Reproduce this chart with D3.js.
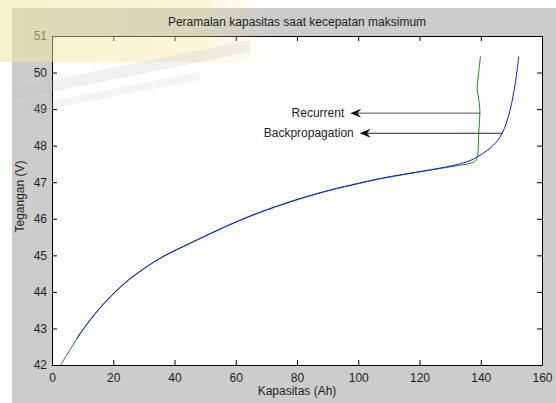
<!DOCTYPE html>
<html>
<head>
<meta charset="utf-8">
<script src="https://cdn.jsdelivr.net/npm/d3@7"></script>
<style>
  body { margin: 0; background: #fff; }
  text { font-family: "Liberation Sans", Arial, sans-serif; fill: #1e1e1e; }
</style>
</head>
<body>
<svg id="chart" width="556" height="403"></svg>
<script>
// values
const xTicks = [0, 20, 40, 60, 80, 100, 120, 140, 160];
const yTicks = [42, 43, 44, 45, 46, 47, 48, 49, 50, 51];

// backpropagation (blue)
const bpCap = [8, 10.4, 15, 20, 25, 30, 36.5, 45, 50, 58, 66, 74.6, 82, 90.9, 100, 107, 115, 123.5, 130, 134.4,
  137, 139, 142, 144.2, 145.5, 147, 148.3, 149.6, 150.5, 151.3, 151.9, 152.4];
const bpVolt = [42.72, 43.0, 43.5, 43.95, 44.33, 44.64, 44.98, 45.33, 45.53, 45.84, 46.12, 46.38, 46.58, 46.79, 46.97, 47.1, 47.22, 47.34, 47.44, 47.53,
  47.61, 47.7, 47.86, 48.02, 48.14, 48.34, 48.6, 48.98, 49.33, 49.71, 50.08, 50.44];

// recurrent (green)
const rnnCap = [2.8, 6, 10.4, 15, 20, 25, 30, 36.5, 45, 50, 58, 66, 74.6, 82, 90.9, 100, 107, 115, 123.5, 130, 134.4,
  136.6, 138.3, 139, 139.2, 139.4, 139.7, 139.2, 138.8, 139.2, 139.9];
const rnnVolt = [42.0, 42.43, 43.0, 43.49, 43.94, 44.32, 44.63, 44.97, 45.32, 45.52, 45.83, 46.11, 46.37, 46.57, 46.78, 46.96, 47.09, 47.21, 47.33, 47.42, 47.48,
  47.52, 47.58, 47.75, 48.0, 48.4, 48.98, 49.35, 49.57, 49.9, 50.44];

// annotation arrows: label, level, tail and head capacity
const noteLabels = ["Recurrent", "Backpropagation"];
const noteVolt = [48.89, 48.34];
const noteFrom = [139.9, 146.9];
const noteTo = [97.4, 100.5];

const svg = d3.select("#chart");
const margin = {top: 36, right: 14, bottom: 38, left: 52};
const width = 556 - margin.left - margin.right;
const height = 403 - margin.top - margin.bottom;

// figure background
svg.append("rect")
  .attr("x", 12).attr("y", 8)
  .attr("width", 556 - 12).attr("height", 403 - 8)
  .attr("fill", "#cccccc");

const g = svg.append("g")
  .attr("transform", `translate(${margin.left},${margin.top})`);

const x = d3.scaleLinear().domain([0, 160]).range([0, width]);
const y = d3.scaleLinear().domain([42, 51]).range([height, 0]);

g.append("rect")
  .attr("width", width).attr("height", height)
  .attr("fill", "#fff");

// faded watermark in the top left corner
const wm = svg.append("g").attr("pointer-events", "none");
const grad = svg.append("defs").append("linearGradient")
  .attr("id", "wmGrad").attr("x1", 0).attr("x2", 1).attr("y1", 0).attr("y2", 0);
grad.append("stop").attr("offset", "0%").attr("stop-color", "#efe7a0").attr("stop-opacity", 0.55);
grad.append("stop").attr("offset", "75%").attr("stop-color", "#efe7a0").attr("stop-opacity", 0.35);
grad.append("stop").attr("offset", "100%").attr("stop-color", "#efe7a0").attr("stop-opacity", 0);
wm.append("rect")
  .attr("x", 0).attr("y", 0).attr("width", 270).attr("height", 62)
  .attr("fill", "url(#wmGrad)");
wm.append("path")
  .attr("d", "M12,88 L250,40 L250,52 L12,100 Z")
  .attr("fill", "#bdbdbd").attr("opacity", 0.22);
wm.append("path")
  .attr("d", "M12,108 L200,72 L200,80 L12,116 Z")
  .attr("fill", "#c4c4c4").attr("opacity", 0.18);

// curves
const line = d3.line()
  .x(d => x(d[0]))
  .y(d => y(d[1]))
  .curve(d3.curveCatmullRom.alpha(0.5));

g.append("path")
  .datum(d3.zip(rnnCap, rnnVolt))
  .attr("fill", "none")
  .attr("stroke", "#1a8a1a")
  .attr("stroke-width", 1)
  .attr("d", line);

g.append("path")
  .datum(d3.zip(bpCap, bpVolt))
  .attr("fill", "none")
  .attr("stroke", "#1515ee")
  .attr("stroke-width", 1)
  .attr("d", line);

// axes, ticks inside on all four sides
const axisStyle = sel => {
  sel.select(".domain").attr("stroke", "#000");
  sel.selectAll(".tick line").attr("stroke", "#000");
  sel.selectAll("text").attr("font-size", 12).attr("fill", "#1e1e1e")
    .attr("font-family", "Liberation Sans, Arial, sans-serif");
};

g.append("g")
  .attr("transform", `translate(0,${height})`)
  .call(d3.axisBottom(x).tickValues(xTicks).tickSizeInner(-5).tickSizeOuter(0).tickPadding(8))
  .call(axisStyle);

g.append("g")
  .call(d3.axisLeft(y).tickValues(yTicks).tickSizeInner(-5).tickSizeOuter(0).tickPadding(5))
  .call(axisStyle);

g.append("g")
  .call(d3.axisTop(x).tickValues(xTicks).tickSizeInner(-5).tickSizeOuter(0).tickFormat(""))
  .call(axisStyle);

g.append("g")
  .attr("transform", `translate(${width},0)`)
  .call(d3.axisRight(y).tickValues(yTicks).tickSizeInner(-5).tickSizeOuter(0).tickFormat(""))
  .call(axisStyle);

// annotations
const arrowHead = (tx, ty) =>
  `M${tx},${ty} L${tx + 11},${ty - 4.5} L${tx + 7},${ty} L${tx + 11},${ty + 4.5} Z`;

noteLabels.forEach((label, i) => {
  const yy = y(noteVolt[i]);
  const x0 = x(noteFrom[i]);
  const x1 = x(noteTo[i]);
  g.append("line")
    .attr("x1", x0).attr("x2", x1 + 7)
    .attr("y1", yy).attr("y2", yy)
    .attr("stroke", i === 0 ? "#555" : "#222")
    .attr("stroke-width", 1);
  g.append("path")
    .attr("d", arrowHead(x1, yy))
    .attr("fill", "#000");
  g.append("text")
    .attr("x", x1 - 6)
    .attr("y", yy)
    .attr("dy", "0.35em")
    .attr("text-anchor", "end")
    .attr("font-size", 12)
    .text(label);
});

// title and axis labels
svg.append("text")
  .attr("x", margin.left + width / 2)
  .attr("y", 26)
  .attr("text-anchor", "middle")
  .attr("font-size", 12)
  .text("Peramalan kapasitas saat kecepatan maksimum");

svg.append("text")
  .attr("x", margin.left + width / 2)
  .attr("y", 395)
  .attr("text-anchor", "middle")
  .attr("font-size", 12)
  .text("Kapasitas (Ah)");

svg.append("text")
  .attr("transform", `translate(24,${margin.top + height / 2 - 4}) rotate(-90)`)
  .attr("text-anchor", "middle")
  .attr("font-size", 12)
  .text("Tegangan (V)");
</script>
</body>
</html>
